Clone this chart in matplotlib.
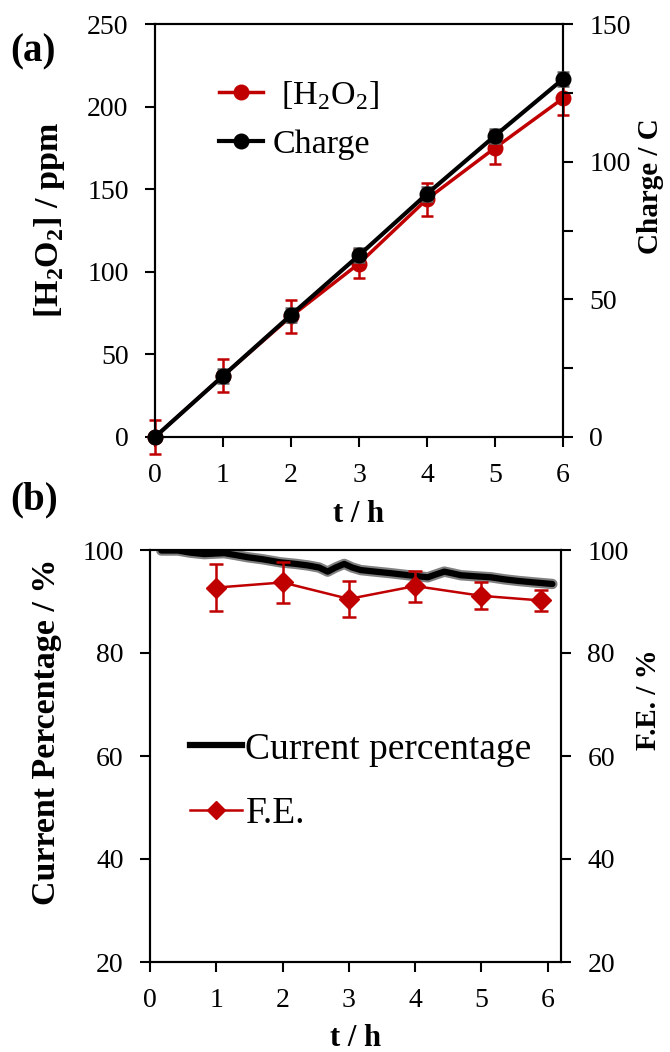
import matplotlib
matplotlib.use("Agg")
import matplotlib.pyplot as plt
import matplotlib.patheffects as pe
from matplotlib.lines import Line2D
from matplotlib.ticker import MultipleLocator

plt.rcParams['font.family'] = ['Liberation Serif', 'DejaVu Serif']
plt.rcParams['mathtext.fontset'] = 'custom'
plt.rcParams['mathtext.rm'] = 'Liberation Serif'
plt.rcParams['mathtext.bf'] = 'Liberation Serif:bold'
plt.rcParams['axes.linewidth'] = 1.5

# ---- data (a)
t_a = [0, 1, 2, 3, 4, 5, 6]
h2o2 = [0, 37, 73, 105, 144, 175, 205]
h2o2_err = [10, 10, 10, 9, 10, 10, 10]
charge = [0, 22.2, 44.3, 66.0, 88.3, 109.4, 130.0]
charge_err = [0.5, 2.5, 2.5, 2.5, 2.5, 2.5, 2.5]

# ---- data (b)
t_cur = [0.17, 0.42, 0.6, 0.82, 1.12, 1.3, 1.47, 1.7, 1.97, 2.2, 2.38, 2.55,
         2.68, 2.8, 2.93, 3.05, 3.18, 3.4, 3.63, 3.9, 4.19, 4.3, 4.44, 4.55,
         4.69, 4.9, 5.14, 5.35, 5.55, 5.8, 6.07]
cur_pct = [99.9, 99.9, 99.5, 99.2, 99.4, 99.0, 98.6, 98.2, 97.6, 97.3, 97.0, 96.6,
           95.8, 96.6, 97.3, 96.6, 96.1, 95.8, 95.5, 95.1, 94.7, 95.2, 95.8, 95.5,
           95.1, 94.9, 94.7, 94.3, 94.0, 93.7, 93.4]
t_fe = [1, 2, 3, 4, 5, 5.9]
fe = [92.7, 93.7, 90.5, 93.0, 91.1, 90.2]
fe_err = [4.5, 4.0, 3.5, 3.0, 2.6, 2.0]

RED = '#C00000'
TICK = 20

fig = plt.figure(figsize=(6.7, 10.52), dpi=100)

def style(ax):
    ax.tick_params(direction='out', length=7, width=1.5, pad=12, labelsize=TICK)
    ax.tick_params(which='minor', direction='out', length=7, width=1.5)

# panel (a)
ax1 = fig.add_axes([155/670, 1-437/1052, 408/670, 413/1052])
ax1.errorbar(t_a, h2o2, yerr=h2o2_err, color=RED, ecolor=RED, lw=2.5,
             marker='o', ms=10.5, capsize=4, elinewidth=1.8, capthick=1.8,
             zorder=3, clip_on=False)
ax1.set_xlim(0, 6)
ax1.set_ylim(0, 250)
ax1.yaxis.set_major_locator(MultipleLocator(50))
ax1.xaxis.set_major_locator(MultipleLocator(1))
ax1.set_xlabel('t / h', fontsize=22, fontweight='bold', labelpad=8)
ax1.set_ylabel(r'[H$_\mathbf{2}$O$_\mathbf{2}$] / ppm', fontsize=24.5, fontweight='bold')
ax1.yaxis.set_label_coords(-0.215, 0.525)
style(ax1)

ax2 = ax1.twinx()
ax2.errorbar(t_a, charge, yerr=charge_err, color='black', ecolor='#606060', lw=3,
             marker='o', ms=10.5, capsize=4, elinewidth=1.8, capthick=1.8,
             zorder=4, clip_on=False)
ax2.set_ylim(0, 150)
ax2.yaxis.set_major_locator(MultipleLocator(50))
ax2.yaxis.set_minor_locator(MultipleLocator(25))
ax2.set_ylabel('Charge / C', fontsize=21, fontweight='bold')
ax2.yaxis.set_label_coords(1.181, 0.608)
style(ax2)

leg_a = [Line2D([], [], color=RED, lw=2.5, marker='o', ms=10.5),
         Line2D([], [], color='black', lw=3, marker='o', ms=10.5)]
ax2.legend(leg_a, [' [H$_2$O$_2$]', 'Charge'], loc='upper left',
           bbox_to_anchor=(0.081, 0.94), frameon=False, fontsize=24.5,
           handlelength=1.3, handletextpad=0.3, labelspacing=0.5)

fig.text(10/670, 1-52/1052, '(a)', fontsize=28, fontweight='bold', va='center')

# panel (b)
ax3 = fig.add_axes([150/670, 1-962/1052, 411/670, 412/1052])
ax3.plot(t_cur, cur_pct, color='black', lw=4.5, solid_capstyle='round', zorder=3,
         path_effects=[pe.Stroke(linewidth=7.5, foreground='#808080'), pe.Normal()])
ax3.set_xlim(0, 6.2)
ax3.set_ylim(20, 100)
ax3.yaxis.set_major_locator(MultipleLocator(20))
ax3.xaxis.set_major_locator(MultipleLocator(1))
ax3.set_xlabel('t / h', fontsize=22, fontweight='bold', labelpad=8)
ax3.set_ylabel('Current Percentage / %', fontsize=24.5, fontweight='bold')
ax3.yaxis.set_label_coords(-0.215, 0.558)
style(ax3)

ax4 = ax3.twinx()
ax4.errorbar(t_fe, fe, yerr=fe_err, color=RED, ecolor=RED, lw=1.8,
             marker='D', ms=10.5, capsize=5, elinewidth=1.8, capthick=1.8,
             zorder=4)
ax4.set_ylim(20, 100)
ax4.yaxis.set_major_locator(MultipleLocator(20))
ax4.set_ylabel('F.E. / %', fontsize=21, fontweight='bold')
ax4.yaxis.set_label_coords(1.18, 0.636)
style(ax4)

leg_b = [Line2D([], [], color='black', lw=4.5),
         Line2D([], [], color=RED, lw=1.8, marker='D', ms=9)]
ax4.legend(leg_b, ['Current percentage', 'F.E.'], loc='upper left',
           bbox_to_anchor=(0.015, 0.64), frameon=False, fontsize=27,
           handlelength=1.4, handletextpad=0.08, labelspacing=0.8)

fig.text(10/670, 1-500/1052, '(b)', fontsize=28, fontweight='bold', va='center')

fig.savefig('out.png', dpi=100)
